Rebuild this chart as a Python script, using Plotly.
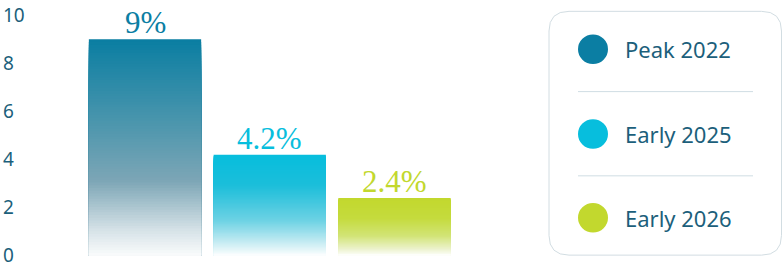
import plotly.graph_objects as go

# ---- data ----
categories = ["Peak 2022", "Early 2025", "Early 2026"]
values = [9, 4.2, 2.4]
y_ticks = [0, 2, 4, 6, 8, 10]

# ---- style ----
W, H = 783, 268
top_colors = ["#0b7ea3", "#07bedd", "#c2d82e"]
# gradient stops (t from top=0 to bottom=1)
grad_stops = [
    [(0.0, (11, 126, 162)), (0.35, (70, 148, 172)), (0.65, (125, 166, 182)), (0.88, (215, 227, 232)), (1.0, (252, 253, 253))],
    [(0.0, (7, 190, 221)), (0.3, (28, 190, 218)), (0.65, (110, 210, 228)), (0.88, (205, 238, 244)), (1.0, (255, 255, 255))],
    [(0.0, (194, 216, 46)), (0.35, (197, 219, 62)), (0.65, (210, 228, 118)), (0.88, (236, 242, 205)), (1.0, (255, 255, 255))],
]
text_color = "#1c5f7b"


def interp(stops, t):
    for (t0, c0), (t1, c1) in zip(stops[:-1], stops[1:]):
        if t0 <= t <= t1:
            f = (t - t0) / (t1 - t0) if t1 > t0 else 0
            return tuple(round(a + (b - a) * f) for a, b in zip(c0, c1))
    return stops[-1][1]


fig = go.Figure()

N = 80
xs = list(range(len(categories)))
for k in range(N):
    frac = (N - k) / N  # height fraction of this layer
    t = 1 - frac  # 0 at top of bar
    cols = ["rgb(%d,%d,%d)" % interp(grad_stops[i], t) for i in range(len(values))]
    fig.add_trace(go.Bar(
        x=xs, y=[v * frac for v in values], width=0.9,
        marker=dict(color=cols, line=dict(width=0)),
        opacity=1, hoverinfo="skip", showlegend=False,
    ))

# value labels
for i, v in enumerate(values):
    fig.add_annotation(x=xs[i], y=v, xref="x", yref="y", text=f"{v:g}%",
                       showarrow=False, yanchor="bottom", yshift=-3,
                       font=dict(family="Liberation Serif", size=31, color=top_colors[i]))

# axis ranges so pixels line up
px_per_unit_x = 124.75
x0 = -145 / px_per_unit_x
x1 = x0 + W / px_per_unit_x
py_per_unit = 24.4
y_min = -(H - 259.5) / py_per_unit
y_max = y_min + H / py_per_unit

fig.update_layout(
    width=W, height=H,
    margin=dict(l=0, r=0, t=0, b=0),
    paper_bgcolor="white", plot_bgcolor="white",
    barmode="overlay",
    xaxis=dict(range=[x0, x1], visible=False, fixedrange=True),
    yaxis=dict(range=[y_min, y_max], tickvals=y_ticks, ticktext=[str(v) for v in y_ticks],
               ticklabelposition="inside", ticklabeloverflow="allow",
               showgrid=False, zeroline=False, showline=False,
               ticks="", tickfont=dict(family="Noto Sans", size=19, color=text_color)),
    showlegend=False,
)

# ---- custom legend (shapes + text) ----
def px(x):
    return x / W


def py(y):
    return 1 - y / H


L, R, T, B, r = 549, 781.5, 11.5, 259, 20
path = (f"M {px(L + r)} {py(T)} L {px(R - r)} {py(T)} Q {px(R)} {py(T)} {px(R)} {py(T + r)} "
        f"L {px(R)} {py(B - r)} Q {px(R)} {py(B)} {px(R - r)} {py(B)} "
        f"L {px(L + r)} {py(B)} Q {px(L)} {py(B)} {px(L)} {py(B - r)} "
        f"L {px(L)} {py(T + r)} Q {px(L)} {py(T)} {px(L + r)} {py(T)} Z")
fig.add_shape(type="path", path=path, xref="paper", yref="paper",
              line=dict(color="#d2dde2", width=1), fillcolor="white", layer="below")

row_y = [50, 136, 221]
for i, name in enumerate(categories):
    cy = row_y[i]
    fig.add_shape(type="circle", xref="paper", yref="paper",
                  x0=px(578), x1=px(608), y0=py(cy + 15), y1=py(cy - 15),
                  fillcolor=top_colors[i], line=dict(width=0))
    fig.add_annotation(x=px(623), y=py(cy), xref="paper", yref="paper", text=name,
                       showarrow=False, xanchor="left", yanchor="middle",
                       font=dict(family="Noto Sans", size=22, color=text_color))
    if i < len(categories) - 1:
        dy = (row_y[i] + row_y[i + 1]) / 2
        fig.add_shape(type="line", xref="paper", yref="paper",
                      x0=px(578), x1=px(753), y0=py(dy), y1=py(dy),
                      line=dict(color="#cfdde3", width=1))

fig.write_html("out.html")
